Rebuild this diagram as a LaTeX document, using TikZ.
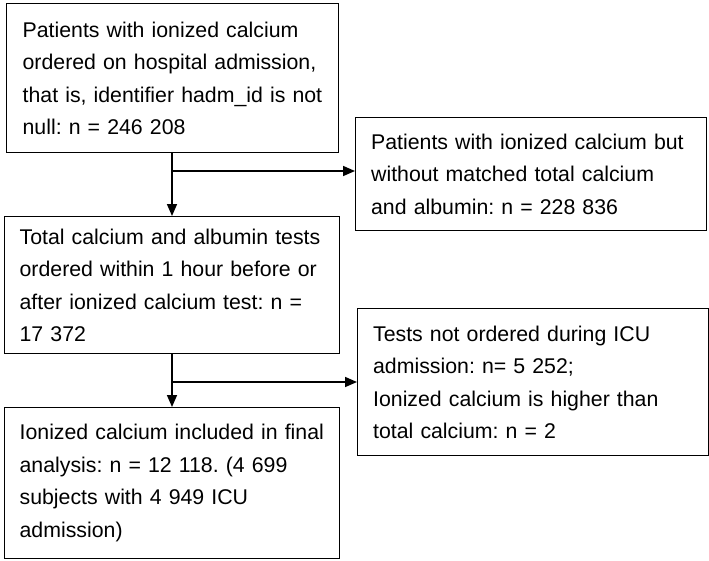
\documentclass[tikz,border=0pt]{standalone}
\usepackage{fontspec}
\setmainfont{Liberation Sans}
\usetikzlibrary{arrows.meta}
\newcommand{\jl}[1]{\makebox[320pt][s]{#1}\\}
\begin{document}
\frenchspacing
\begin{tikzpicture}[x=1pt,y=-1pt,
  box/.style={draw,line width=1.3pt,inner sep=0pt,anchor=north west,align=left,font=\fontsize{21.3}{32.5}\selectfont},
  arr/.style={line width=1.6pt,-{Triangle[length=12pt,width=10pt]}}]
\useasboundingbox (0,0) rectangle (709,560);
\node[box,minimum width=332pt,minimum height=149pt,text width=300pt] (a) at (6,3) {Patients with ionized calcium\\ ordered on hospital admission,\\ that is, identifier hadm\_id is not\\ null: n = 246 208};
\node[box,minimum width=351pt,minimum height=113pt,text width=320pt] (b) at (355,117) {\jl{Patients with ionized calcium but}\jl{without matched total calcium}and albumin: n = 228 836};
\node[box,minimum width=335pt,minimum height=137pt,text width=305pt] (c) at (4,216) {Total calcium and albumin tests\\ ordered within 1 hour before or\\ after ionized calcium test: n =\\ 17 372};
\node[box,minimum width=351pt,minimum height=147pt,text width=320pt] (d) at (357,308) {\jl{Tests not ordered during ICU}admission: n= 5 252;\\ \jl{Ionized calcium is higher than}total calcium: n = 2};
\node[box,minimum width=335pt,minimum height=151pt,text width=305pt] (e) at (4,407) {Ionized calcium included in final\\ analysis: n = 12 118. (4 699\\ subjects with 4 949 ICU\\ admission)};
\coordinate (j1) at (172,171);
\coordinate (j2) at (172,382);
\draw[arr] (a.south -| j1) -- (c.north -| j1);
\draw[arr] (j1) -- (j1 -| b.west);
\draw[arr] (c.south -| j2) -- (e.north -| j2);
\draw[arr] (j2) -- (j2 -| d.west);
\end{tikzpicture}
\end{document}
